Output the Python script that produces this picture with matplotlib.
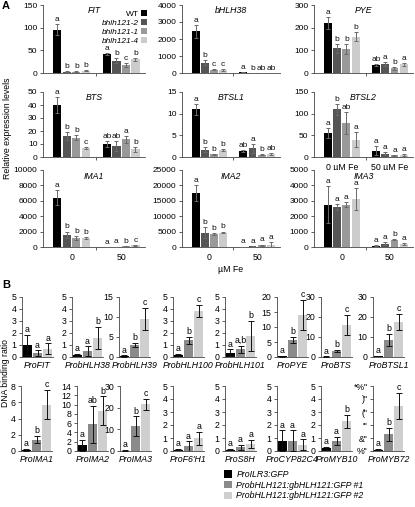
import matplotlib
matplotlib.use('Agg')
import matplotlib.pyplot as plt
from matplotlib.patches import Patch

plt.rcParams['font.family'] = ['Liberation Sans', 'DejaVu Sans']

W, H = 415, 507
fig = plt.figure(figsize=(W / 100, H / 100), dpi=100)


def add_ax(l, t, w, h):
    return fig.add_axes([l / W, 1 - (t + h) / H, w / W, h / H])


# ---------------- Panel A data ----------------
genes_a = ['FIT', 'bHLH38', 'PYE', 'BTS', 'BTSL1', 'BTSL2', 'IMA1', 'IMA2', 'IMA3']
fit_v = [95, 3, 3, 5, 42, 27, 17, 30]
fit_e = [12, 1, 1, 1, 3, 5, 4, 3]
fit_l = ['a', 'b', 'b', 'b', 'a', 'b', 'c', 'b']
bhlh38_v = [2450, 600, 200, 170, 40, 15, 20, 20]
bhlh38_e = [400, 150, 50, 40, 10, 5, 5, 5]
bhlh38_l = ['a', 'b', 'c', 'c', 'a', 'b', 'ab', 'ab']
pye_v = [220, 110, 108, 160, 35, 40, 20, 38]
pye_e = [25, 20, 22, 20, 5, 7, 5, 7]
pye_l = ['a', 'b', 'b', 'b', 'ab', 'a', 'b', 'a']
bts_v = [40, 16, 15, 7, 10, 8.5, 13.5, 6]
bts_e = [6, 3, 2, 1, 2, 3.5, 2.5, 2]
bts_l = ['a', 'b', 'b', 'c', 'ab', 'ab', 'a', 'b']
btsl1_v = [11, 1.7, 0.6, 1.6, 1.4, 2.0, 0.5, 0.7]
btsl1_e = [1.3, 0.6, 0.2, 0.2, 0.3, 1.0, 0.1, 0.3]
btsl1_l = ['a', 'b', 'b', 'b', 'ab', 'a', 'b', 'ab']
btsl2_v = [55, 110, 78, 40, 15, 8, 4, 4]
btsl2_e = [12, 12, 25, 17, 10, 3, 1, 2]
btsl2_l = ['a', 'b', 'ab', 'a', 'a', 'a', 'a', 'a']
ima1_v = [6400, 1600, 1150, 1200, 30, 40, 80, 200]
ima1_e = [1000, 400, 300, 100, 10, 10, 20, 50]
ima1_l = ['a', 'b', 'b', 'b', 'a', 'a', 'b', 'c']
ima2_v = [17500, 4700, 4200, 4700, 100, 200, 600, 700]
ima2_e = [2500, 1700, 200, 300, 50, 100, 200, 800]
ima2_l = ['a', 'b', 'b', 'b', 'a', 'a', 'a', 'a']
ima3_v = [2750, 2600, 2750, 3100, 80, 220, 480, 180]
ima3_e = [1200, 200, 150, 700, 30, 80, 50, 50]
ima3_l = ['a', 'a', 'a', 'a', 'a', 'a', 'b', 'a']

a_vals = [fit_v, bhlh38_v, pye_v, bts_v, btsl1_v, btsl2_v, ima1_v, ima2_v, ima3_v]
a_errs = [fit_e, bhlh38_e, pye_e, bts_e, btsl1_e, btsl2_e, ima1_e, ima2_e, ima3_e]
a_lets = [fit_l, bhlh38_l, pye_l, bts_l, btsl1_l, btsl2_l, ima1_l, ima2_l, ima3_l]
a_ymax = [150, 4000, 300, 50, 15, 150, 10000, 25000, 5000]
a_step = [50, 1000, 100, 10, 5, 50, 2000, 5000, 1000]
genotypes = ['WT', 'bhlh121-2', 'bhlh121-1', 'bhlh121-4']
a_colors = ['#000000', '#555555', '#999999', '#cccccc']
fe_labels_mid = ['0 µM Fe', '50 µM Fe']
fe_labels = ['0', '50']

col_left = [43, 182, 314]
col_w = [102, 98, 99]
row_top = [5, 92, 170]
row_h = [68, 65, 77]

xpos = [0, 1, 2, 3, 5.2, 6.2, 7.2, 8.2]

for i, g in enumerate(genes_a):
    r, c = divmod(i, 3)
    ax = add_ax(col_left[c], row_top[r], col_w[c], row_h[r])
    v, e, L = a_vals[i], a_errs[i], a_lets[i]
    ax.bar(xpos, v, width=0.86, color=a_colors * 2, edgecolor='none', zorder=2)
    ax.errorbar(xpos, v, yerr=e, fmt='none', ecolor='#6a6a6a', elinewidth=0.7,
                capsize=1.6, capthick=0.7, zorder=3)
    ym = a_ymax[i]
    for xi, vi, ei, li in zip(xpos, v, e, L):
        ax.text(xi, vi + ei + ym * 0.015, li, ha='center', va='bottom', fontsize=6, color='#111')
    ax.set_ylim(0, ym)
    ax.set_yticks([k * a_step[i] for k in range(int(round(ym / a_step[i])) + 1)])
    ax.set_xlim(-1.5, 9.2)
    ax.set_xticks([4.1])
    ax.set_xticklabels([''])
    ax.set_xticks([1.5, 6.7], minor=True)
    if i == 5:
        ax.set_xticklabels(fe_labels_mid, minor=True, fontsize=6.3)
    elif r == 2:
        ax.set_xticklabels(fe_labels, minor=True, fontsize=6.3)
    ax.tick_params(axis='x', which='minor', length=0, pad=4)
    ax.tick_params(axis='x', which='major', length=2.5, width=0.6, color='#444')
    ax.tick_params(axis='y', labelsize=6, length=2.5, width=0.6, pad=1.5, color='#444')
    for s in ['top', 'right']:
        ax.spines[s].set_visible(False)
    for s in ['left', 'bottom']:
        ax.spines[s].set_linewidth(0.6)
        ax.spines[s].set_color('#444')
    ax.text(0.5, 0.98, g, transform=ax.transAxes, ha='center', va='top',
            style='italic', fontsize=6.3)
    if i == 0:
        handles = [Patch(facecolor=cc, edgecolor='none') for cc in a_colors]
        leg = ax.legend(handles, genotypes, loc='upper right', bbox_to_anchor=(1.02, 0.93),
                        markerfirst=False, frameon=False, fontsize=6, handlelength=0.7,
                        handleheight=0.7, handletextpad=0.3, labelspacing=0.15,
                        borderpad=0, borderaxespad=0)
        for t in leg.get_texts()[1:]:
            t.set_style('italic')

fig.text(8 / W, 1 - 128 / H, 'Relative expression levels', rotation=90,
         ha='center', va='center', fontsize=6.3)
fig.text(231 / W, 1 - 269 / H, 'µM Fe', ha='center', va='center', fontsize=6.3)
fig.text(2 / W, 1 - 6 / H, 'A', ha='left', va='center', fontsize=8, fontweight='bold')
fig.text(2 / W, 1 - 285 / H, 'B', ha='left', va='center', fontsize=8, fontweight='bold')

# ---------------- Panel B data ----------------
promoters = ['ProFIT', 'ProbHLH38', 'ProbHLH39', 'ProbHLH100', 'ProbHLH101', 'ProPYE',
             'ProBTS', 'ProBTSL1', 'ProIMA1', 'ProIMA2', 'ProIMA3', "ProF6'H1",
             'ProS8H', 'ProCYP82C4', 'ProMYB10', 'ProMYB72']
b_vals = [
    [1.0, 0.3, 0.7], [0.15, 0.5, 1.6], [0.2, 3.0, 9.5], [0.15, 1.4, 3.85],
    [0.35, 0.65, 1.75], [0.3, 5.8, 14.0], [0.2, 3.0, 16.0], [0.5, 8.7, 17.5],
    [0.15, 1.4, 5.7], [1.2, 5.8, 8.7], [0.2, 11.5, 21.5], [0.1, 0.35, 1.0],
    [0.1, 0.3, 0.55], [0.8, 0.8, 0.5], [0.2, 0.8, 2.3], [0.1, 1.3, 3.5],
]
b_errs = [
    [0.85, 0.25, 0.45], [0.1, 0.4, 0.9], [0.2, 0.5, 2.8], [0.1, 0.3, 0.5],
    [0.3, 0.3, 1.25], [0.2, 1.0, 5.0], [0.1, 0.5, 5.0], [0.2, 3.0, 4.0],
    [0.15, 0.45, 1.8], [1.2, 4.0, 3.1], [0.2, 4.5, 2.5], [0.05, 0.4, 0.5],
    [0.05, 0.2, 0.3], [0.8, 0.8, 0.4], [0.1, 0.3, 0.5], [0.05, 0.5, 1.0],
]
b_lets = [
    ['a', 'a', 'a'], ['a', 'a', 'b'], ['a', 'b', 'c'], ['a', 'b', 'c'],
    ['a', 'a,b', 'b'], ['a', 'b', 'c'], ['a', 'b', 'c'], ['a', 'b', 'c'],
    ['a', 'b', 'c'], ['a', 'ab', 'b'], ['a', 'b', 'c'], ['a', 'a', 'a'],
    ['a', 'a', 'a'], ['a', 'a', 'a'], ['a', 'a', 'b'], ['a', 'b', 'c'],
]
b_ymax = [5, 5, 15, 5, 5, 20, 30, 30, 8, 14, 30, 5, 5, 5, 5, 5]
b_step = [1, 1, 5, 1, 1, 5, 10, 10, 2, 2, 10, 1, 1, 1, 1, 1]
myb72_ticklabels = ['%"', '&"', '\'"', '("', ')"', '*%"']
b_lines = ['ProILR3:GFP', 'ProbHLH121:gbHLH121:GFP #1', 'ProbHLH121:gbHLH121:GFP #2']
b_colors = ['#000000', '#8a8a8a', '#cfcfcf']

b_left = [[22, 72, 119, 173, 225, 277, 321, 373],
          [21, 77, 120, 173, 225, 277, 321, 373]]
b_top = [297, 386]
b_h = [60, 65]

for i, p in enumerate(promoters):
    r, c = divmod(i, 8)
    ax = add_ax(b_left[r][c], b_top[r], 31, b_h[r])
    v, e, L = b_vals[i], b_errs[i], b_lets[i]
    xs = [0, 1, 2]
    ax.bar(xs, v, width=0.88, color=b_colors, edgecolor='none', zorder=2)
    ax.errorbar(xs, v, yerr=e, fmt='none', ecolor='#111', elinewidth=0.7,
                capsize=2, capthick=0.7, zorder=3)
    ym = b_ymax[i]
    for xi, vi, ei, li in zip(xs, v, e, L):
        ax.text(xi, vi + ei + ym * 0.01, li, ha='center', va='bottom', fontsize=6.3)
    ax.set_ylim(0, ym)
    ax.set_yticks([k * b_step[i] for k in range(int(round(ym / b_step[i])) + 1)])
    if p == 'ProMYB72':
        ax.set_yticklabels(myb72_ticklabels)
    ax.set_xlim(-0.52, 2.52)
    ax.set_xticks([])
    ax.set_xlabel(p, style='italic', fontsize=6.3, labelpad=3)
    ax.tick_params(axis='y', labelsize=6.3, length=2.5, width=0.6, pad=1.5, color='#444')
    for s in ['top', 'right']:
        ax.spines[s].set_visible(False)
    for s in ['left', 'bottom']:
        ax.spines[s].set_linewidth(0.6)
        ax.spines[s].set_color('#444')

fig.text(5 / W, 1 - 373 / H, 'DNA binding ratio', rotation=90,
         ha='center', va='center', fontsize=6.2)

handles = [Patch(facecolor=cc, edgecolor='none') for cc in b_colors]
legb = fig.legend(handles, b_lines, loc='upper left', bbox_to_anchor=(224 / W, 1 - 470 / H),
                  frameon=False, fontsize=6.3, handlelength=0.9, handleheight=0.9,
                  handletextpad=0.5, labelspacing=0.2, borderpad=0, borderaxespad=0)
for t in legb.get_texts():
    t.set_style('italic')

fig.savefig('out.png', dpi=100)
